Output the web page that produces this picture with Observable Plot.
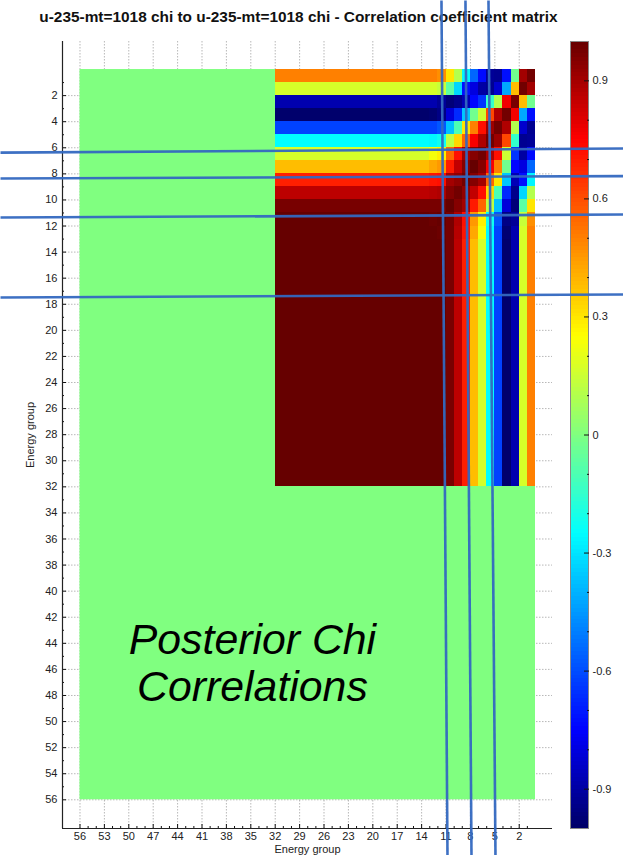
<!DOCTYPE html>
<html>
<head>
<meta charset="utf-8">
<script src="https://cdn.jsdelivr.net/npm/d3@7"></script>
<script src="https://cdn.jsdelivr.net/npm/@observablehq/plot@0.6"></script>
<style>
html,body{margin:0;padding:0;background:#fff;}
#page{position:relative;width:623px;height:855px;overflow:hidden;font-family:"Liberation Sans",sans-serif;}
#title{position:absolute;left:0;width:597px;top:8px;text-align:center;font:bold 15.4px "Liberation Sans",sans-serif;color:#111;white-space:nowrap;}
#page svg{position:absolute;left:0;top:0;background:transparent;}
.hm g[aria-label="rect"]{filter:blur(.55px);}
</style>
</head>
<body>
<div id="page"><div id="title">u-235-mt=1018 chi to u-235-mt=1018 chi - Correlation coefficient matrix</div></div>
<script>
const axisLabel = "Energy group";
const groupCount = 56;
const correlatedGroups = 32;
// Correlations: groups 1-13, last row/column is the plateau for groups 14-32
const correlationTable = [
  [.98,.9,-.03,-.72,-.93,-.92,-.73,-.55,-.27,.1,.3,.47,.5,.5],
  [.9,.98,.38,-.42,-.83,-.93,-.9,-.8,-.72,-.33,-.07,.14,.17,.17],
  [-.03,.38,.97,.77,.1,-.15,-.65,-.74,-.87,-.94,-.97,-.92,-.88,-.88],
  [-.72,-.42,.77,.98,.88,.61,.15,-.03,-.36,-.67,-.81,-.95,-.98,-.99],
  [-.93,-.83,.1,.88,.98,.91,.72,.5,.3,-.1,-.37,-.58,-.62,-.62],
  [-.92,-.93,-.15,.61,.91,.98,.88,.76,.55,.33,.12,-.22,-.26,-.25],
  [-.73,-.9,-.65,.15,.72,.88,.98,.95,.9,.72,.55,.28,.23,.17],
  [-.55,-.8,-.74,-.03,.5,.76,.95,1,.95,.85,.7,.45,.42,.38],
  [-.27,-.72,-.87,-.36,.3,.55,.9,.95,.98,.93,.9,.72,.71,.69],
  [.1,-.33,-.94,-.67,-.1,.33,.72,.85,.93,.98,.95,.88,.87,.86],
  [.3,-.07,-.97,-.81,-.37,.12,.55,.7,.9,.95,1,.97,.97,.97],
  [.47,.14,-.92,-.95,-.58,-.22,.28,.45,.72,.88,.97,1,.99,1],
  [.5,.17,-.88,-.98,-.62,-.26,.23,.42,.71,.87,.97,.99,1,1],
  [.5,.17,-.88,-.99,-.62,-.25,.17,.38,.69,.86,.97,1,1,1]
];
const xTicks = [56,53,50,47,44,41,38,35,32,29,26,23,20,17,14,11,8,5,2];
const xMinorTicks = [55,54,52,51,49,48,46,45,43,42,40,39,37,36,34,33,31,30,28,27,25,24,22,21,19,18,16,15,13,12,10,9,7,6,4,3,1];
const yTicks = [2,4,6,8,10,12,14,16,18,20,22,24,26,28,30,32,34,36,38,40,42,44,46,48,50,52,54,56];
const yMinorTicks = [1,3,5,7,9,11,13,15,17,19,21,23,25,27,29,31,33,35,37,39,41,43,45,47,49,51,53,55];
const barTicks = [-0.9,-0.6,-0.3,0,0.3,0.6,0.9];
const barMinorTicks = [-0.8,-0.7,-0.5,-0.4,-0.2,-0.1,0.1,0.2,0.4,0.5,0.7,0.8];
const colorStops = [-1,-0.75,-0.25,0,0.25,0.75,1];
const colorRamp = ["#000066","#0000ff","#00ffff","#80ff80","#ffff00","#ff0000","#660000"];
const noteLines = [
  {text:"Posterior Chi", group:34.8, row:43.75},
  {text:"Correlations", group:34.8, row:47.4}
];
// Hand-drawn blue guide lines laid over the figure, in energy-group units
const guideLines = [
  {x1:65.77,y1:6.37,x2:-10.82,y2:6.06},
  {x1:65.77,y1:8.36,x2:-10.82,y2:8.17},
  {x1:65.77,y1:11.35,x2:-10.82,y2:11.12},
  {x1:65.77,y1:17.48,x2:-10.82,y2:17.25},
  {x1:11.56,y1:-5.29,x2:10.82,y2:60.27},
  {x1:8.61,y1:-5.29,x2:7.87,y2:60.27},
  {x1:5.78,y1:-5.29,x2:4.92,y2:60.27}
];

const colorScale = {type:"linear", domain:colorStops, range:colorRamp, clamp:true};
const cells = [];
for (let r = 1; r <= correlatedGroups; r++) for (let c = 1; c <= correlatedGroups; c++) {
  cells.push({r, c, v: correlationTable[Math.min(r,14)-1][Math.min(c,14)-1]});
}
const background = [{v:0}];
const tickColor = "#111";
const gridStyle = {stroke:"#888", strokeWidth:.6, strokeDasharray:"1.5,1.5"};

const main = Plot.plot({
  width:623, height:855, marginLeft:62, marginRight:71, marginTop:41, marginBottom:27,
  className:"hm",
  style:{background:"transparent", fontFamily:"Liberation Sans", fontSize:"11px"},
  x:{domain:[58.15,-2.09], label:null},
  y:{domain:[58.2,-2.15], label:null},
  color:colorScale,
  marks:[
    Plot.ruleX(xTicks, gridStyle),
    Plot.ruleY(yTicks, gridStyle),
    Plot.rect(background, {x1:groupCount, x2:0, y1:0, y2:groupCount, fill:"v"}),
    Plot.rect(cells, {x1:d=>d.c, x2:d=>d.c-1, y1:d=>d.r-1, y2:d=>d.r, fill:"v", shapeRendering:"crispEdges"}),
    Plot.axisX(xTicks, {anchor:"bottom", tickSize:-4, tickPadding:8, stroke:tickColor, fill:"#222", fontSize:11, label:axisLabel, labelAnchor:"center", labelArrow:"none", labelOffset:24, tickFormat:d=>String(d)}),
    Plot.axisX(xMinorTicks, {anchor:"bottom", tickSize:-2, stroke:tickColor, tickFormat:()=>"", label:null}),
    Plot.axisY(yTicks, {anchor:"left", tickSize:-4, tickPadding:9, stroke:tickColor, fill:"#222", fontSize:11, label:axisLabel, labelAnchor:"center", labelArrow:"none", labelOffset:36, tickFormat:d=>String(d)}),
    Plot.axisY(yMinorTicks, {anchor:"left", tickSize:-2, stroke:tickColor, tickFormat:()=>"", label:null}),
    Plot.ruleY([58.2], {stroke:"#222", strokeWidth:1.2}),
    Plot.ruleX([58.15], {stroke:"#222", strokeWidth:1.2}),
    Plot.text(noteLines, {x:"group", y:"row", text:"text", fontSize:42.8, fontStyle:"italic", fontFamily:"Liberation Sans", fill:"#000", textAnchor:"middle"}),
    Plot.link(guideLines, {x1:"x1", y1:"y1", x2:"x2", y2:"y2", stroke:"#3368c0", strokeWidth:2.6, strokeOpacity:.95})
  ]
});

const barStep = 0.01;
const barStops = d3.range(-1, 1, barStep);
const bar = Plot.plot({
  width:623, height:855, marginLeft:570, marginRight:35, marginTop:41, marginBottom:27,
  style:{background:"transparent", fontFamily:"Liberation Sans", fontSize:"11px"},
  x:{domain:[0,1], axis:null},
  y:{domain:[-1,1], label:null},
  color:colorScale,
  marks:[
    Plot.rect(barStops, {x1:0, x2:1, y1:d=>d, y2:d=>d+barStep, fill:d=>d+barStep/2, shapeRendering:"crispEdges"}),
    Plot.frame({stroke:"#888", strokeWidth:1}),
    Plot.axisY(barTicks, {anchor:"right", tickSize:-5, tickPadding:9, stroke:"#111", fill:"#222", fontSize:11, label:null, tickFormat:d=>String(d)}),
    Plot.axisY(barMinorTicks, {anchor:"right", tickSize:-2, stroke:"#111", tickFormat:()=>"", label:null})
  ]
});

const page = document.getElementById("page");
page.appendChild(bar);
page.appendChild(main);
</script>
</body>
</html>
